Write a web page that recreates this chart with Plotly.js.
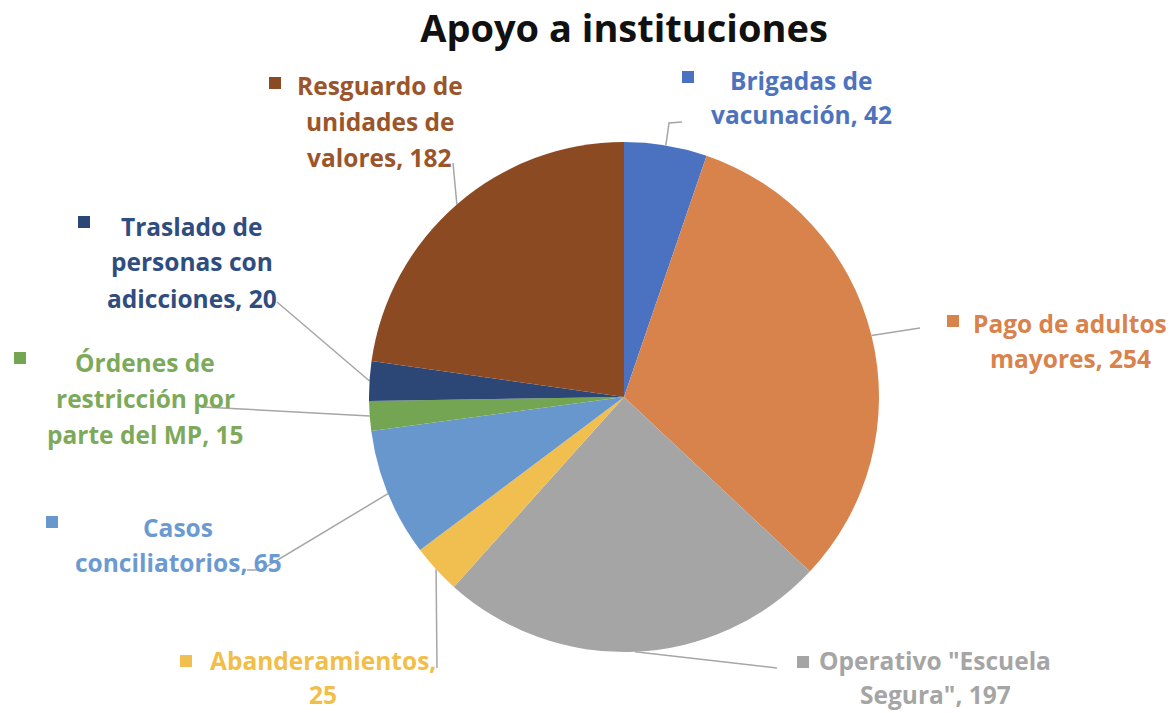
<!DOCTYPE html>
<html>
<head>
<meta charset="utf-8">
<script src="https://cdn.plot.ly/plotly-3.0.1.min.js"></script>
<style>html,body{margin:0;padding:0;background:#fff;}#chart{width:1174px;height:713px;}</style>
</head>
<body>
<div id="chart"></div>
<script>
// ---- data ----
const categories = ['Brigadas de vacunación', 'Pago de adultos mayores', 'Operativo "Escuela Segura"', 'Abanderamientos', 'Casos conciliatorios', 'Órdenes de restricción por parte del MP', 'Traslado de personas con adicciones', 'Resguardo de unidades de valores'];
const values = [42, 254, 197, 25, 65, 15, 20, 182];
const labelLines = [
  ['Brigadas de', 'vacunación, {v}'],
  ['Pago de adultos', 'mayores, {v}'],
  ['Operativo "Escuela', 'Segura", {v}'],
  ['Abanderamientos,', '{v}'],
  ['Casos', 'conciliatorios, {v}'],
  ['Órdenes de', 'restricción por', 'parte del MP, {v}'],
  ['Traslado de', 'personas con', 'adicciones, {v}'],
  ['Resguardo de', 'unidades de', 'valores, {v}']
];
const colors = ['#4B72C1', '#D8834B', '#A5A5A5', '#F0BF4F', '#6897CE', '#74A552', '#2C4676', '#8B4A22'];
const textColors = ['#4E73BE', '#D9824B', '#A5A5A5', '#F1BE4A', '#6B9AD2', '#7DAA5A', '#2F4D7E', '#9A552B'];

// ---- layout (pixels) ----
const W = 1174, H = 713;
const CX = 624, CY = 397, R = 255;
const labelCenter = [[801, 80], [1070, 323], [935, 660], [323, 660], [178, 527], [145, 363], [192, 226], [380, 85]];
const lineGap = [35, 35, 34, 34, 35, 36, 36, 36];
const keyPos = [[688, 77], [953, 321], [803, 662], [186, 661], [52, 522], [20, 358], [84, 222], [275, 83]];
const leaderPts = [
  [[669, 123], [682, 122]],
  [[920, 328]],
  [[777, 668]],
  [[437, 668]],
  [[261, 570], [247, 570]],
  [[203, 407]],
  [[277, 302]],
  [[453, 163]]
];

const px = x => x / W;
const py = y => 1 - y / H;

const total = values.reduce((a, b) => a + b, 0);
const annotations = [];
const shapes = [];
let cum = 0;
values.forEach((v, i) => {
  const mid = (cum + v / 2) / total * 2 * Math.PI;
  cum += v;
  const ex = CX + R * Math.sin(mid), ey = CY - R * Math.cos(mid);
  let path = 'M' + px(ex) + ',' + py(ey);
  leaderPts[i].forEach(p => { path += ' L' + px(p[0]) + ',' + py(p[1]); });
  shapes.push({type: 'path', xref: 'paper', yref: 'paper', path: path, line: {color: '#A6A6A6', width: 1.5}, layer: 'below'});
  const lines = labelLines[i];
  lines.forEach((t, j) => {
    annotations.push({
      xref: 'paper', yref: 'paper', showarrow: false,
      x: px(labelCenter[i][0]), y: py(labelCenter[i][1] + j * lineGap[i]),
      xanchor: 'center', yanchor: 'middle', borderpad: 0,
      text: t.replace('{v}', v),
      font: {family: '"Open Sans", sans-serif', size: 24.5, weight: 700, color: textColors[i]}
    });
  });
  const k = keyPos[i], s = 6;
  shapes.push({type: 'rect', xref: 'paper', yref: 'paper', x0: px(k[0] - s), x1: px(k[0] + s), y0: py(k[1] + s), y1: py(k[1] - s), fillcolor: colors[i], line: {width: 0}});
});

const data = [{
  type: 'pie',
  labels: categories,
  values: values,
  sort: false,
  direction: 'clockwise',
  rotation: 0,
  textinfo: 'none',
  hoverinfo: 'label+value',
  marker: {colors: colors, line: {width: 0}},
  domain: {x: [px(CX - R), px(CX + R)], y: [py(CY + R), py(CY - R)]},
  showlegend: false
}];

const layout = {
  width: W, height: H,
  margin: {l: 0, r: 0, t: 0, b: 0},
  paper_bgcolor: '#fff',
  showlegend: false,
  title: {text: 'Apoyo a instituciones', x: px(624), y: py(29), xanchor: 'center', yanchor: 'middle', xref: 'paper', yref: 'paper',
          font: {family: '"Open Sans", sans-serif', size: 38, weight: 700, color: '#111'}},
  annotations: annotations,
  shapes: shapes
};

Plotly.newPlot('chart', data, layout, {displayModeBar: false, staticPlot: true});
</script>
</body>
</html>
